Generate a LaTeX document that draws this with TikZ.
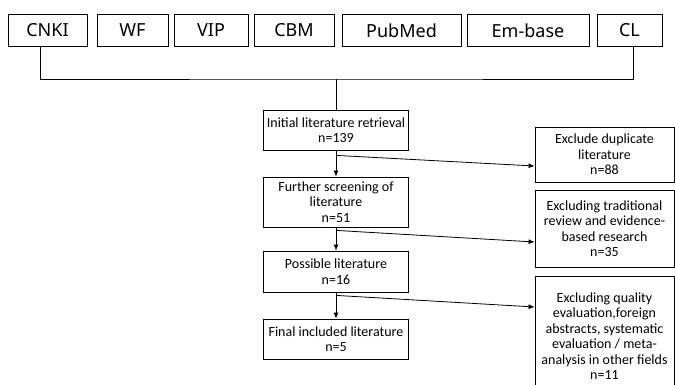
\documentclass[tikz,border=0pt]{standalone}
\usepackage{fontspec}
\setmainfont{Carlito}
\newfontfamily\topfont{Noto Sans}
\usetikzlibrary{arrows.meta,calc}
\begin{document}
\begin{tikzpicture}[x=1pt,y=-1pt,
  line width=0.8pt,
  dbbox/.style={draw, rectangle, inner sep=0pt, minimum height=32pt, font=\topfont\fontsize{18}{20}\selectfont},
  flowbox/.style={draw, rectangle, inner sep=0pt, align=center, minimum width=145pt, font=\fontsize{14}{15.5}\selectfont},
  exbox/.style={draw, rectangle, inner sep=0pt, align=center, minimum width=139pt, font=\fontsize{14}{15.5}\selectfont},
  arr/.style={-{Latex[length=6pt,width=5pt]}}]
\useasboundingbox (0,0) rectangle (675,385);
\clip (0,0) rectangle (675,385);
\node[dbbox, minimum width=79pt] (cnki) at (47.5,30.5) {CNKI};
\node[dbbox, minimum width=71pt] (wf) at (132.5,30.5) {WF};
\node[dbbox, minimum width=74pt] (vip) at (211,30.5) {VIP};
\node[dbbox, minimum width=80pt] (cbm) at (294,30.5) {CBM};
\node[dbbox, minimum width=119pt] (pubmed) at (401.5,30.5) {PubMed};
\node[dbbox, minimum width=122pt] (embase) at (528,30.5) {Em-base};
\node[dbbox, minimum width=65pt] (cl) at (629.5,30.5) {CL};

\node[flowbox, minimum height=40pt] (init) at (336,130) {Initial literature retrieval\\n=139};
\node[flowbox, minimum height=50pt] (further) at (336,202) {Further screening of\\literature\\n=51};
\node[flowbox, minimum height=41pt] (possible) at (336,271.5) {Possible literature\\n=16};
\node[flowbox, minimum height=40pt] (final) at (336,339) {Final included literature\\n=5};

\node[exbox, minimum height=55pt] (dup) at (604.5,154.5) {Exclude duplicate\\literature\\n=88};
\node[exbox, minimum height=77pt] (trad) at (604.5,228.5) {Excluding traditional\\review and evidence-\\based research\\n=35};
\node[exbox, minimum height=120pt] (qual) at (604.5,336) {Excluding quality\\evaluation,foreign\\abstracts, systematic\\evaluation / meta-\\analysis in other fields\\n=11};

\coordinate (merge) at (336,79);
\draw ([xshift=-7.5pt]cnki.south) |- (merge) -| ([xshift=3.5pt]cl.south);
\draw (merge) -- (init.north);

\draw[arr] (init.south) -- (further.north);
\draw[arr] (further.south) -- (possible.north);
\draw[arr] (possible.south) -- (final.north);

\coordinate (s1) at ($(init.south)+(0,5)$);
\coordinate (s2) at ($(further.south)+(0,3)$);
\coordinate (s3) at ($(possible.south)+(0,3)$);
\draw[arr] (s1) -- ([yshift=-11.5pt]dup.west);
\draw[arr] (s2) -- ([yshift=-13.5pt]trad.west);
\draw[arr] (s3) -- ([yshift=29pt]qual.west);
\end{tikzpicture}
\end{document}
